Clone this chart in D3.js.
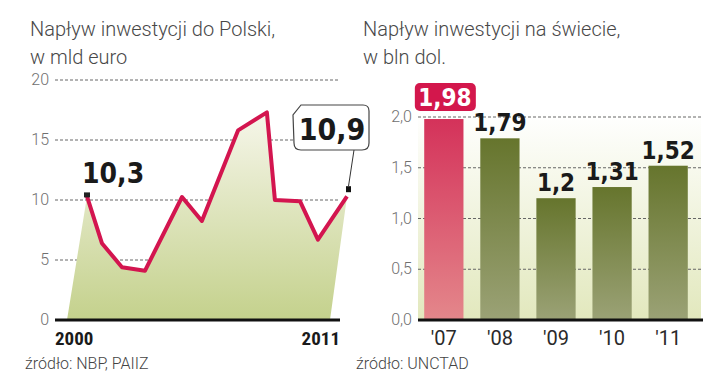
<!DOCTYPE html>
<html>
<head>
<meta charset="utf-8">
<script src="https://cdn.jsdelivr.net/npm/d3@7"></script>
<style>
  body { margin: 0; background: #fff; }
  svg { display: block; }
  .title { font-family: Roboto, "Open Sans", sans-serif; font-weight: 300; font-size: 20px; fill: #484848; }
  .src { font-family: Roboto, sans-serif; font-weight: 300; font-size: 16px; fill: #444; }
  .tick-y { font-family: Roboto, sans-serif; font-weight: 300; font-size: 16px; fill: #707070; }
  .val { font-family: "DejaVu Sans Condensed", "Liberation Sans Narrow", sans-serif; font-weight: bold; font-stretch: condensed; fill: #1a1a1a; }
  .cat { font-family: Roboto, sans-serif; font-size: 20px; fill: #2a2a2a; }
</style>
</head>
<body>
<svg id="chart" width="720" height="385"></svg>
<script>
// left chart: inflow into Poland, bn EUR (time positions)
var pl_time = [2000, 2000.63, 2001.48, 2002.45, 2004.02, 2004.86, 2006.39, 2007.61, 2007.95, 2009.01, 2009.77, 2011];
var pl_values = [10.3, 6.4, 4.4, 4.1, 10.25, 8.25, 15.8, 17.3, 10.0, 9.9, 6.7, 10.3];
var pl_ticks = [0, 5, 10, 15, 20];
var pl_years = [2000, 2011];
var pl_first = "10,3";
var pl_last = "10,9";
var pl_last_value = 10.9;

// right chart: world inflow, trillion USD
var w_years = ["'07", "'08", "'09", "'10", "'11"];
var w_values = [1.98, 1.79, 1.2, 1.31, 1.52];
var w_labels = ["1,98", "1,79", "1,2", "1,31", "1,52"];
var w_ticks = [0, 0.5, 1.0, 1.5, 2.0];

var svg = d3.select("#chart");
var defs = svg.append("defs");

function grad(id, top, bottom) {
    var g = defs.append("linearGradient").attr("id", id)
        .attr("x1", 0).attr("y1", 0).attr("x2", 0).attr("y2", 1);
    g.append("stop").attr("offset", "0%").attr("stop-color", top);
    g.append("stop").attr("offset", "100%").attr("stop-color", bottom);
}
grad("areaGrad", "#f6f6ea", "#c4d18c");
grad("redGrad", "#d4325a", "#e4878b");
grad("greenGrad", "#66752d", "#9ba276");
grad("panelGrad", "#ffffff", "#e2e8bd");

// ---------- left chart ----------
var xL = d3.scaleLinear().domain([2000, 2011]).range([87, 347]);
var yL = d3.scaleLinear().domain([0, 20]).range([320, 80]);

svg.append("text").attr("class", "title").attr("x", 30).attr("y", 36).text("Napływ inwestycji do Polski,");
svg.append("text").attr("class", "title").attr("x", 30).attr("y", 64).text("w mld euro");

// grid
svg.append("g").selectAll("line")
    .data(pl_ticks.filter(function(d) { return d > 0; }))
    .enter().append("line")
    .attr("x1", 55).attr("x2", 340)
    .attr("y1", function(d) { return yL(d); }).attr("y2", function(d) { return yL(d); })
    .attr("stroke", "#666").attr("stroke-width", 1).attr("stroke-dasharray", "3,2");

svg.append("g").selectAll("text")
    .data(pl_ticks)
    .enter().append("text")
    .attr("class", "tick-y")
    .attr("x", 49).attr("y", function(d) { return yL(d) + 5; })
    .attr("text-anchor", "end")
    .text(function(d) { return d; });

// slanted area under the line
var pts = pl_time.map(function(t, i) { return [xL(t), yL(pl_values[i])]; });
var areaPts = pts.concat([[xL(2011) - 17, yL(0)], [xL(2000) - 20, yL(0)]]);
svg.append("path")
    .attr("d", "M" + areaPts.map(function(p) { return p.join(","); }).join("L") + "Z")
    .attr("fill", "url(#areaGrad)");

svg.append("line").attr("x1", 55).attr("x2", 340)
    .attr("y1", yL(0)).attr("y2", yL(0))
    .attr("stroke", "#111").attr("stroke-width", 3);

var line = d3.line()
    .x(function(d, i) { return xL(pl_time[i]); })
    .y(function(d) { return yL(d); });
svg.append("path").datum(pl_values)
    .attr("d", line)
    .attr("fill", "none").attr("stroke", "#d3154f").attr("stroke-width", 4)
    .attr("stroke-linejoin", "round");

// markers
svg.append("rect").attr("x", xL(2000) - 3).attr("y", yL(pl_values[0]) - 4)
    .attr("width", 6).attr("height", 5).attr("fill", "#222");
svg.append("rect").attr("x", xL(2011) - 1).attr("y", yL(pl_last_value) - 3)
    .attr("width", 5).attr("height", 6).attr("fill", "#111");

svg.append("text").attr("class", "val").attr("font-size", 28)
    .attr("x", xL(2000) - 5).attr("y", yL(pl_values[0]) - 13).text(pl_first);

// callout box for last value
var bx = 293, by = 105;
svg.append("line").attr("x1", xL(2011) + 1.5).attr("y1", yL(pl_last_value) - 3)
    .attr("x2", 354).attr("y2", 150).attr("stroke", "#333").attr("stroke-width", 1);
svg.append("path")
    .attr("d", "M" + (bx + 8) + "," + by + "L" + (bx + 70) + "," + by +
        "Q" + (bx + 76) + "," + by + " " + (bx + 76) + "," + (by + 6) +
        "L" + (bx + 76) + "," + (by + 38) +
        "Q" + (bx + 76) + "," + (by + 45) + " " + (bx + 69) + "," + (by + 45) +
        "L" + (bx + 8) + "," + (by + 45) +
        "Q" + (bx + 1) + "," + (by + 45) + " " + (bx + 1) + "," + (by + 38) +
        "L" + bx + "," + (by + 10) + "Z")
    .attr("fill", "#fff").attr("stroke", "#444").attr("stroke-width", 1.2);
svg.append("text").attr("class", "val").attr("font-size", 30)
    .attr("x", bx + 39).attr("y", by + 35).attr("text-anchor", "middle").text(pl_last);

svg.append("text").attr("class", "val").attr("font-size", 19)
    .style("font-family", "Roboto, sans-serif")
    .attr("x", 55).attr("y", 345).text(pl_years[0]);
svg.append("text").attr("class", "val").attr("font-size", 19)
    .style("font-family", "Roboto, sans-serif")
    .attr("x", 340).attr("y", 345).attr("text-anchor", "end").text(pl_years[1]);

svg.append("text").attr("class", "src").attr("x", 25).attr("y", 369).text("źródło: NBP, PAIIZ");

// ---------- right chart ----------
var xR = d3.scaleBand().domain(w_years).range([413, 699]).paddingInner(0.3).paddingOuter(0.2);
var yR = d3.scaleLinear().domain([0, 2]).range([320, 117]);

svg.append("text").attr("class", "title").attr("x", 363).attr("y", 36).text("Napływ inwestycji na świecie,");
svg.append("text").attr("class", "title").attr("x", 363).attr("y", 64).text("w bln dol.");

svg.append("rect").attr("x", 418).attr("y", yR(2) - 4).attr("width", 283).attr("height", yR(0) - yR(2) + 4)
    .attr("fill", "url(#panelGrad)");

svg.append("g").selectAll("line")
    .data(w_ticks.filter(function(d) { return d > 0; }))
    .enter().append("line")
    .attr("x1", 418).attr("x2", 703)
    .attr("y1", function(d) { return yR(d); }).attr("y2", function(d) { return yR(d); })
    .attr("stroke", "#666").attr("stroke-width", 1).attr("stroke-dasharray", "3,2");

svg.append("g").selectAll("text")
    .data(w_ticks)
    .enter().append("text")
    .attr("class", "tick-y")
    .attr("x", 412).attr("y", function(d) { return yR(d) + 5; })
    .attr("text-anchor", "end")
    .text(function(d) { return d.toFixed(1).replace(".", ","); });

svg.append("g").selectAll("rect")
    .data(w_values)
    .enter().append("rect")
    .attr("x", function(d, i) { return xR(w_years[i]); })
    .attr("width", xR.bandwidth())
    .attr("y", function(d) { return yR(d); })
    .attr("height", function(d) { return yR(0) - yR(d); })
    .attr("fill", function(d, i) { return i === 0 ? "url(#redGrad)" : "url(#greenGrad)"; });

svg.append("line").attr("x1", 418).attr("x2", 703)
    .attr("y1", yR(0)).attr("y2", yR(0))
    .attr("stroke", "#111").attr("stroke-width", 3);

// highlighted first label
var b0 = xR(w_years[0]) + xR.bandwidth() / 2;
svg.append("rect").attr("x", b0 - 29).attr("y", 83).attr("width", 61).attr("height", 28)
    .attr("rx", 5).attr("fill", "#d3174c");

svg.append("g").selectAll("text")
    .data(w_values)
    .enter().append("text")
    .attr("class", "val").attr("font-size", 24)
    .attr("text-anchor", "middle")
    .attr("x", function(d, i) { return xR(w_years[i]) + xR.bandwidth() / 2 + (i === 0 ? 1 : 0); })
    .attr("y", function(d, i) { return i === 0 ? 106 : yR(d) - 7; })
    .style("fill", function(d, i) { return i === 0 ? "#fff" : "#1a1a1a"; })
    .text(function(d, i) { return w_labels[i]; });

svg.append("g").selectAll("text")
    .data(w_years)
    .enter().append("text")
    .attr("class", "cat")
    .attr("text-anchor", "middle")
    .attr("x", function(d) { return xR(d) + xR.bandwidth() / 2; })
    .attr("y", 345)
    .text(function(d) { return d; });

svg.append("text").attr("class", "src").attr("x", 356).attr("y", 369).text("źródło: UNCTAD");
</script>
</body>
</html>
